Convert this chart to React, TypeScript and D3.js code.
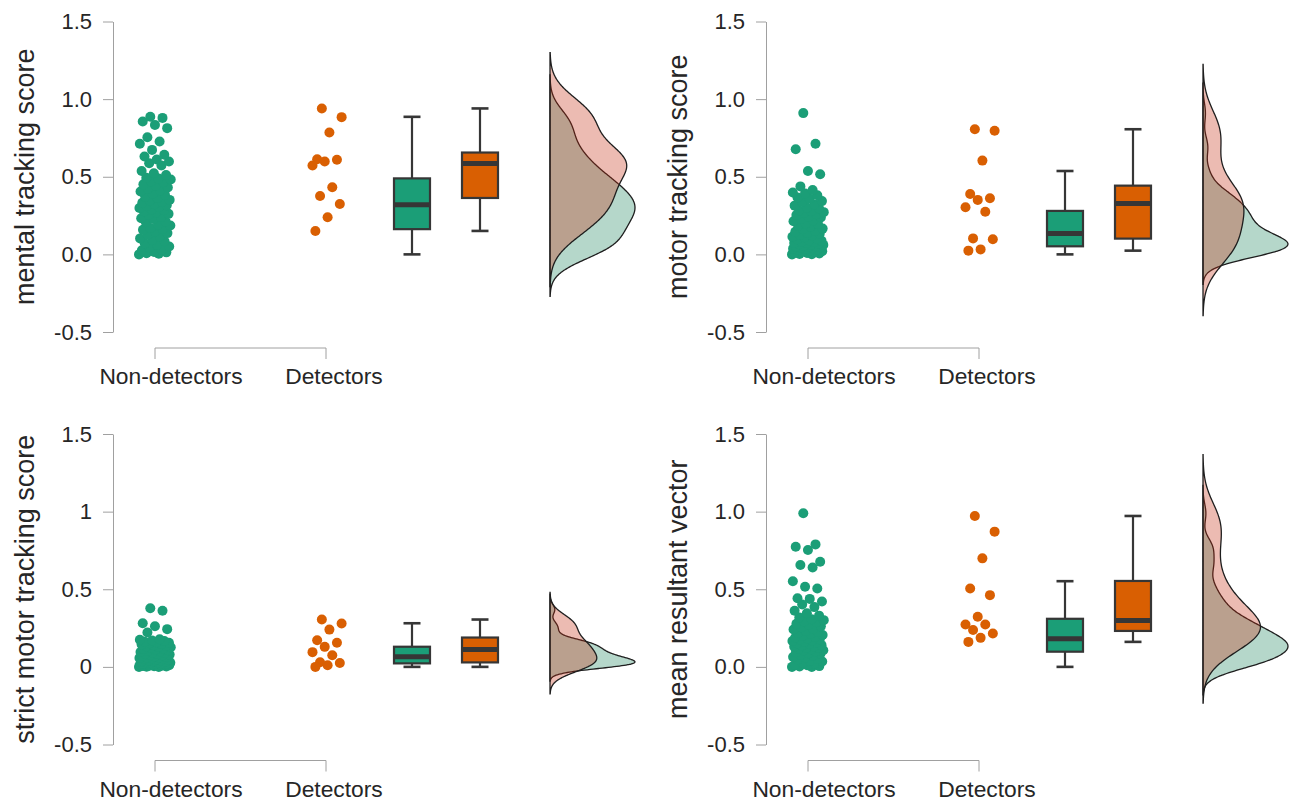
import React, { useRef, useEffect } from "react";
import * as d3 from "d3";

// categories and axis ticks
const categories = ["Non-detectors", "Detectors"];
const yTicks = [-0.5, 0, 0.5, 1, 1.5];

// y axis titles, one per panel
const yTitles = [
  "mental tracking score",
  "motor tracking score",
  "strict motor tracking score",
  "mean resultant vector",
];

// mental tracking score
const mentalNon = [
  0.0, 0.004, 0.007, 0.013, 0.016, 0.026, 0.03, 0.045, 0.051, 0.063, 0.071, 0.084, 0.092, 0.103, 0.115, 0.126, 0.137, 0.148, 0.158,
  0.164, 0.17, 0.186, 0.191, 0.207, 0.211, 0.228, 0.233, 0.24, 0.256, 0.261, 0.27, 0.276, 0.285, 0.29, 0.299, 0.305, 0.312, 0.317,
  0.323, 0.332, 0.337, 0.347, 0.351, 0.363, 0.372, 0.384, 0.39, 0.405, 0.411, 0.423, 0.431, 0.443, 0.451, 0.465, 0.47, 0.482, 0.488,
  0.494, 0.511, 0.522, 0.537, 0.572, 0.587, 0.598, 0.611, 0.631, 0.642, 0.673, 0.712, 0.727, 0.755, 0.813, 0.834, 0.856, 0.879, 0.886,
];
const mentalDet = [0.94, 0.884, 0.785, 0.613, 0.609, 0.598, 0.572, 0.432, 0.376, 0.325, 0.239, 0.151];

// motor tracking score
const motorNon = [
  0.0, 0.001, 0.003, 0.006, 0.009, 0.01, 0.015, 0.018, 0.02, 0.026, 0.028, 0.031, 0.034, 0.037, 0.04, 0.042, 0.046, 0.047, 0.049,
  0.053, 0.055, 0.061, 0.062, 0.066, 0.068, 0.073, 0.074, 0.079, 0.081, 0.087, 0.09, 0.098, 0.102, 0.11, 0.114, 0.122, 0.126, 0.133,
  0.137, 0.146, 0.151, 0.162, 0.166, 0.178, 0.184, 0.195, 0.199, 0.213, 0.218, 0.228, 0.237, 0.243, 0.254, 0.258, 0.267, 0.272, 0.279,
  0.283, 0.296, 0.301, 0.314, 0.322, 0.337, 0.343, 0.358, 0.366, 0.381, 0.392, 0.398, 0.415, 0.438, 0.516, 0.537, 0.677, 0.712, 0.91,
];
const motorDet = [0.806, 0.796, 0.604, 0.389, 0.361, 0.351, 0.303, 0.275, 0.103, 0.097, 0.032, 0.024];

// strict motor tracking score
const strictNon = [
  0.0, 0.0, 0.001, 0.002, 0.004, 0.005, 0.007, 0.008, 0.01, 0.011, 0.012, 0.014, 0.015, 0.016, 0.017, 0.018, 0.019, 0.02, 0.021,
  0.023, 0.024, 0.027, 0.029, 0.03, 0.033, 0.036, 0.037, 0.041, 0.042, 0.046, 0.047, 0.05, 0.054, 0.055, 0.057, 0.06, 0.061, 0.063,
  0.067, 0.071, 0.073, 0.077, 0.079, 0.083, 0.085, 0.089, 0.092, 0.096, 0.099, 0.104, 0.107, 0.112, 0.115, 0.118, 0.123, 0.126, 0.129,
  0.132, 0.137, 0.14, 0.144, 0.147, 0.152, 0.155, 0.159, 0.162, 0.167, 0.17, 0.175, 0.178, 0.221, 0.243, 0.262, 0.281, 0.362, 0.378,
];
const strictDet = [0.305, 0.279, 0.24, 0.172, 0.155, 0.129, 0.095, 0.075, 0.03, 0.025, 0.01, 0.0];

// mean resultant vector
const mrvNon = [
  0.0, 0.0, 0.002, 0.005, 0.01, 0.014, 0.022, 0.027, 0.035, 0.04, 0.048, 0.052, 0.06, 0.064, 0.072, 0.076, 0.084, 0.088, 0.094,
  0.099, 0.105, 0.107, 0.114, 0.116, 0.122, 0.124, 0.13, 0.132, 0.138, 0.14, 0.147, 0.15, 0.157, 0.16, 0.167, 0.17, 0.176, 0.178,
  0.183, 0.189, 0.193, 0.201, 0.205, 0.213, 0.218, 0.227, 0.232, 0.241, 0.246, 0.255, 0.261, 0.271, 0.277, 0.287, 0.292, 0.301, 0.307,
  0.318, 0.33, 0.345, 0.362, 0.385, 0.402, 0.421, 0.438, 0.442, 0.505, 0.516, 0.552, 0.64, 0.656, 0.677, 0.753, 0.774, 0.789, 0.989,
];
const mrvDet = [0.972, 0.871, 0.699, 0.505, 0.462, 0.323, 0.273, 0.273, 0.237, 0.215, 0.187, 0.161];

const fmtFixed = (v: number) => v.toFixed(1);
const fmtPlain = (v: number) => String(v);

const panels = [
  { dx: 0, dy: 0, title: yTitles[0], groups: [mentalNon, mentalDet], fmt: fmtFixed },
  { dx: 653, dy: 0, title: yTitles[1], groups: [motorNon, motorDet], fmt: fmtFixed },
  { dx: 0, dy: 412.5, title: yTitles[2], groups: [strictNon, strictDet], fmt: fmtPlain },
  { dx: 653, dy: 412.5, title: yTitles[3], groups: [mrvNon, mrvDet], fmt: fmtFixed },
];

const colors = ["#1B9E77", "#D95F02"];
const densFill = ["#2A8C66", "#C32A10"];
const densOpacity = [0.35, 0.32];
const FONT = "Liberation Sans, Arial, Helvetica, sans-serif";

function boxStats(values: number[]) {
  const s = values.slice().sort(d3.ascending);
  const q1 = d3.quantile(s, 0.25) as number;
  const med = d3.quantile(s, 0.5) as number;
  const q3 = d3.quantile(s, 0.75) as number;
  const iqr = q3 - q1;
  const lo = d3.min(s.filter((v) => v >= q1 - 1.5 * iqr)) as number;
  const hi = d3.max(s.filter((v) => v <= q3 + 1.5 * iqr)) as number;
  return { q1, med, q3, lo, hi, iqr };
}

// gaussian kernel density, R's bw.nrd0 and cut = 3
function density(values: number[]) {
  const s = values.slice().sort(d3.ascending);
  const n = s.length;
  const sd = d3.deviation(s) as number;
  const iqr = (d3.quantile(s, 0.75) as number) - (d3.quantile(s, 0.25) as number);
  const bw = 0.9 * Math.min(sd, iqr / 1.34) * Math.pow(n, -0.2);
  const lo = (d3.min(s) as number) - 3 * bw;
  const hi = (d3.max(s) as number) + 3 * bw;
  const pts: [number, number][] = [];
  const m = 256;
  for (let k = 0; k <= m; k++) {
    const x = lo + ((hi - lo) * k) / m;
    let sum = 0;
    for (const v of s) {
      const u = (x - v) / bw;
      sum += Math.exp(-0.5 * u * u);
    }
    pts.push([x, sum / (n * bw * Math.sqrt(2 * Math.PI))]);
  }
  return pts;
}

const App = () => {
  const ref = useRef<SVGSVGElement>(null);

  useEffect(() => {
    const svg = d3.select(ref.current);
    svg.selectAll("*").remove();

    const y = d3.scaleLinear().domain([-0.5, 1.5]).range([332, 21.5]);
    const x = d3.scalePoint().domain(categories).range([155, 326]);
    const boxX = [412, 480];
    const violinX = 550;
    const labelShift = [16, 8];

    panels.forEach((p) => {
      const g = svg.append("g").attr("transform", `translate(${p.dx},${p.dy})`);

      // y axis
      const ax = g
        .append("g")
        .attr("transform", "translate(113,0)")
        .call(
          d3
            .axisLeft(y)
            .tickValues(yTicks)
            .tickSize(10)
            .tickSizeOuter(0)
            .tickPadding(11)
            .tickFormat((d) => p.fmt(d as number))
        );
      ax.attr("font-family", FONT).attr("font-size", 22);
      ax.select(".domain").attr("stroke", "#a0a0a0");
      ax.selectAll(".tick line").attr("stroke", "#a0a0a0");
      ax.selectAll(".tick text").attr("fill", "#262626");

      g.append("text")
        .attr("transform", `translate(34,${y(0.5)}) rotate(-90)`)
        .attr("text-anchor", "middle")
        .attr("font-family", FONT)
        .attr("font-size", 27)
        .attr("fill", "#262626")
        .text(p.title);

      // x axis bracket and labels
      const x0 = x(categories[0]) as number;
      const x1 = x(categories[1]) as number;
      g.append("path")
        .attr("d", `M${x0},359V348H${x1}V359`)
        .attr("fill", "none")
        .attr("stroke", "#a0a0a0");
      categories.forEach((c, i) => {
        g.append("text")
          .attr("x", (x(c) as number) + labelShift[i])
          .attr("y", 384)
          .attr("text-anchor", "middle")
          .attr("font-family", FONT)
          .attr("font-size", 22.8)
          .attr("fill", "#262626")
          .text(c);
      });

      // jittered points
      p.groups.forEach((vals, gi) => {
        const cx = x(categories[gi]) as number;
        g.append("g")
          .selectAll("circle")
          .data(vals)
          .join("circle")
          .attr("cx", (d, i) => cx + (((i * 0.6180339 + 0.37 * gi) % 1) - 0.5) * 32)
          .attr("cy", (d) => y(d))
          .attr("r", 5)
          .attr("fill", colors[gi]);
      });

      // box plots
      p.groups.forEach((vals, gi) => {
        const b = boxStats(vals);
        const bx = boxX[gi];
        const bg = g.append("g").attr("stroke", "#363636");
        bg.append("line").attr("x1", bx).attr("x2", bx).attr("y1", y(b.hi)).attr("y2", y(b.q3)).attr("stroke-width", 2.2);
        bg.append("line").attr("x1", bx).attr("x2", bx).attr("y1", y(b.q1)).attr("y2", y(b.lo)).attr("stroke-width", 2.2);
        bg.append("line").attr("x1", bx - 8.5).attr("x2", bx + 8.5).attr("y1", y(b.hi)).attr("y2", y(b.hi)).attr("stroke-width", 2.6);
        bg.append("line").attr("x1", bx - 8.5).attr("x2", bx + 8.5).attr("y1", y(b.lo)).attr("y2", y(b.lo)).attr("stroke-width", 2.6);
        bg.append("rect")
          .attr("x", bx - 18)
          .attr("y", y(b.q3))
          .attr("width", 36)
          .attr("height", y(b.q1) - y(b.q3))
          .attr("fill", colors[gi])
          .attr("stroke-width", 2.2);
        bg.append("line").attr("x1", bx - 18).attr("x2", bx + 18).attr("y1", y(b.med)).attr("y2", y(b.med)).attr("stroke-width", 5);
      });

      // half violins
      const dens = p.groups.map((vals) => density(vals));
      const maxD = d3.max(dens, (d) => d3.max(d, (e) => e[1])) as number;
      const w = d3.scaleLinear().domain([0, maxD]).range([0, 85]);
      const area = d3
        .area<[number, number]>()
        .x0(violinX)
        .x1((d) => violinX + w(d[1]))
        .y((d) => y(d[0]))
        .curve(d3.curveBasis);
      dens.forEach((d, gi) => {
        g.append("path")
          .attr("d", area(d))
          .attr("fill", densFill[gi])
          .attr("fill-opacity", densOpacity[gi])
          .attr("stroke", "#1e1e1e")
          .attr("stroke-width", 1.3);
      });
    });
  }, []);

  return (
    <svg
      ref={ref}
      width={1296}
      height={802}
      style={{ position: "absolute", left: 0, top: 0, background: "#fff" }}
    />
  );
};

export default App;
